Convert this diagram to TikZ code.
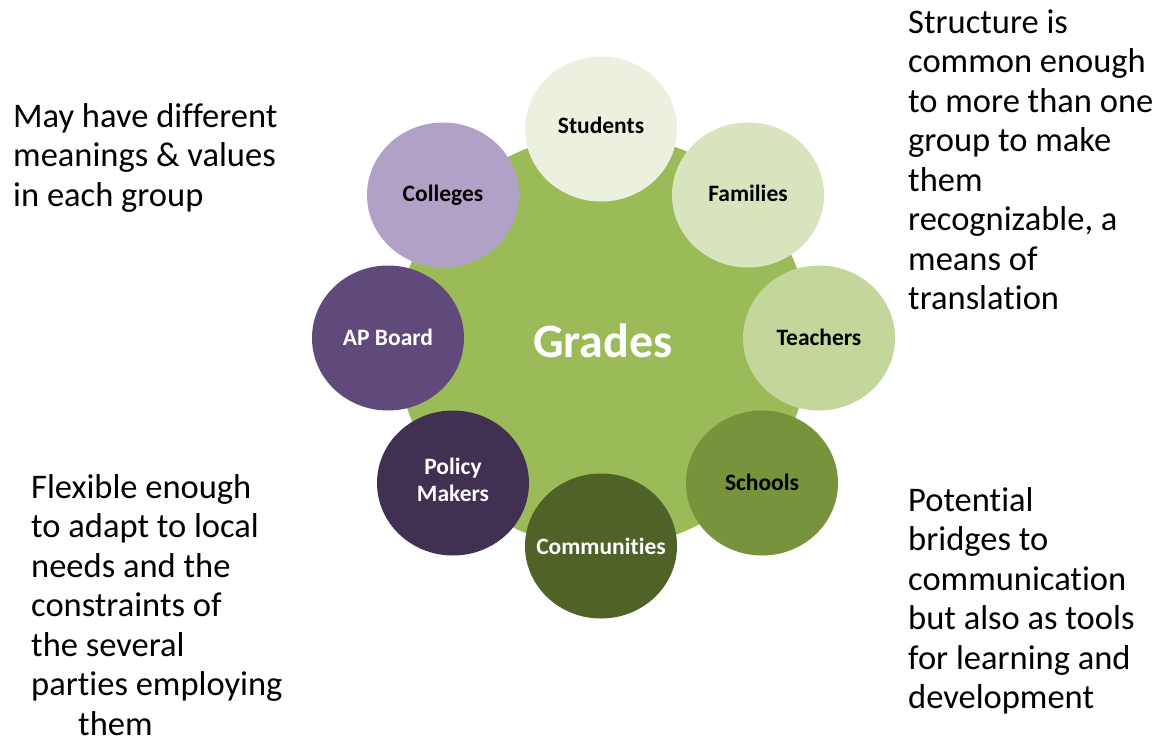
\documentclass[tikz,border=0pt]{standalone}
\usepackage{fontspec}
\setmainfont{Carlito}[Ligatures=NoCommon]
\usetikzlibrary{shapes.geometric}
\definecolor{cbig}{HTML}{9BBB59}
\definecolor{cstu}{HTML}{EBF1DE}
\definecolor{cfam}{HTML}{D7E4BD}
\definecolor{ctea}{HTML}{C3D69B}
\definecolor{csch}{HTML}{77933C}
\definecolor{ccom}{HTML}{4F6228}
\definecolor{cpol}{HTML}{403152}
\definecolor{capb}{HTML}{604A7B}
\definecolor{ccol}{HTML}{B2A1C7}
\newcommand{\lbl}[2][0pt]{\makebox[0pt]{\raisebox{#1}{#2}}}
\tikzset{
  bubble/.style={ellipse, minimum width=152pt, minimum height=145pt, inner sep=0pt,
    draw=none, font=\bfseries\fontsize{23.5}{27}\selectfont},
  sidetext/.style={inner sep=0pt, align=left, anchor=base west,
    font=\fontsize{34.5}{39.5}\selectfont}
}
\begin{document}
\begin{tikzpicture}[x=1pt,y=-1pt]
\useasboundingbox (0,0) rectangle (1168,740);
\node[circle, minimum size=414pt, inner sep=0pt, fill=cbig, text=white,
  font=\bfseries\fontsize{48}{52}\selectfont] (grades) at (603,341) {Grades};
\node[bubble, fill=cstu, text=black] (students) at (601,129) {\lbl[8pt]{Students}};
\node[bubble, fill=cfam, text=black] (families) at (748,195) {\lbl[3pt]{Families}};
\node[bubble, fill=ctea, text=black] (teachers) at (819,338) {\lbl[1pt]{Teachers}};
\node[bubble, fill=csch, text=black] (schools) at (762,483) {\lbl[1pt]{Schools}};
\node[bubble, fill=ccom, text=white] (communities) at (601,546) {\lbl{Communities}};
\node[bubble, fill=cpol, text=white] (policy) at (453,483) {\lbl[3pt]{\begin{tabular}{@{}c@{}}Policy\\Makers\end{tabular}}};
\node[bubble, fill=capb, text=white] (apboard) at (388,338) {\lbl[1pt]{AP Board}};
\node[bubble, fill=ccol, text=black] (colleges) at (443,195) {\lbl[2pt]{Colleges}};
\node[sidetext] (tl) at (13,206) {May have different\\meanings \& values\\in each group};
\node[sidetext] (tr) at (908,309.5) {Structure is\\common enough\\to more than one\\group to make\\them\\recognizable, a\\means of\\translation};
\node[sidetext] (bl) at (31,735) {Flexible enough\\to adapt to local\\needs and the\\constraints of\\the several\\parties employing\\\hspace*{47pt}them};
\node[sidetext] (br) at (908,708.5) {Potential\\bridges to\\communication\\but also as tools\\for learning and\\development};
\end{tikzpicture}
\end{document}
